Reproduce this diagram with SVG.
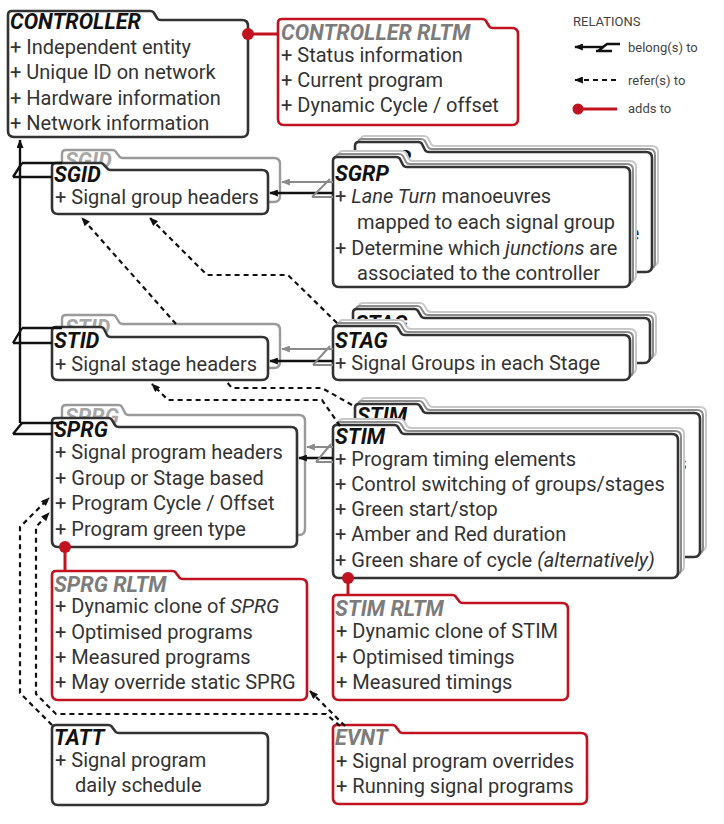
<svg xmlns="http://www.w3.org/2000/svg" xmlns:xlink="http://www.w3.org/1999/xlink" width="724" height="824" viewBox="0 0 724 824">
<style>
.card{fill:#fff;stroke:#333;stroke-width:2.6}
.red{fill:#fff;stroke:#c1121f;stroke-width:2.6}
.back{fill:#fff;stroke:#9a9a9a;stroke-width:2.4}
.sh1{fill:#fff;stroke:#8c8c8c;stroke-width:2}
.sh2{fill:#fff;stroke:#c8c8c8;stroke-width:2}
.t{font-family:Roboto,"Liberation Sans",sans-serif;font-size:20px;font-weight:normal;fill:#333}
.h{font-family:Roboto,"Liberation Sans",sans-serif;font-size:21.5px;font-weight:bold;font-style:italic;fill:#111}
.hr{font-family:Roboto,"Liberation Sans",sans-serif;font-size:21.5px;font-weight:bold;font-style:italic;fill:#7c7c7c}
.hb{font-family:Roboto,"Liberation Sans",sans-serif;font-size:21.5px;font-weight:bold;font-style:italic;fill:#a8a8a8}
.lg{font-family:Roboto,"Liberation Sans",sans-serif;font-size:13px;fill:#444}
.belong{stroke:#111;stroke-width:2.4;fill:none}
.belongg{stroke:#8a8a8a;stroke-width:2;fill:none}
.refer{stroke:#111;stroke-width:2.2;stroke-dasharray:5 4;fill:none}
.adds{stroke:#c1121f;stroke-width:3;fill:none}
.dot{fill:#c1121f}
</style>
<defs>
<marker id="ab" viewBox="0 0 10 8" refX="9" refY="4" markerWidth="9" markerHeight="7" orient="auto-start-reverse" markerUnits="userSpaceOnUse"><path d="M0,0 L10,4 L0,8 z" fill="#111"/></marker>
<marker id="ag" viewBox="0 0 10 8" refX="9" refY="4" markerWidth="9" markerHeight="7" orient="auto-start-reverse" markerUnits="userSpaceOnUse"><path d="M0,0 L10,4 L0,8 z" fill="#8a8a8a"/></marker>
<path id="sgrpShape" d="M333,281 V161 Q333,157 337,157 H396 Q399,157 400,159 L403,165 Q404,167 407,167 H624 Q630,167 630,173 V281 Q630,287 624,287 H339 Q333,287 333,281 Z"/>
<path id="stagShape" d="M333,374 V330 Q333,326 337,326 H394 Q397,326 398,328 L401,333 Q402,335 405,335 H624 Q630,335 630,341 V374 Q630,380 624,380 H339 Q333,380 333,374 Z"/>
<path id="stimShape" d="M333,572 V429 Q333,425 337,425 H394 Q397,425 398,427 L401,432 Q402,434 405,434 H672 Q678,434 678,440 V572 Q678,578 672,578 H339 Q333,578 333,572 Z"/>
<g id="sgrpText">
<text class="h" x="335" y="181">SGRP</text>
<text class="t" x="335" y="203">+ <tspan font-style="italic">Lane Turn</tspan> manoeuvres</text>
<text class="t" x="357" y="229">mapped to each signal group</text>
<text class="t" x="335" y="255">+ Determine which <tspan font-style="italic">junctions</tspan> are</text>
<text class="t" x="357" y="280">associated to the controller</text>
</g>
<g id="stagText">
<text class="h" x="335" y="348">STAG</text>
<text class="t" x="335" y="370">+ Signal Groups in each Stage</text>
</g>
<g id="stimText">
<text class="h" x="335" y="444">STIM</text>
<text class="t" x="335" y="466">+ Program timing elements</text>
<text class="t" x="335" y="491">+ Control switching of groups/stages</text>
<text class="t" x="335" y="516">+ Green start/stop</text>
<text class="t" x="335" y="541">+ Amber and Red duration</text>
<text class="t" x="335" y="567">+ Green share of cycle <tspan font-style="italic">(alternatively)</tspan></text>
</g>
</defs>
<rect width="724" height="824" fill="#fff"/>

<g id="legend">
<text class="lg" x="573" y="26" font-size="14">RELATIONS</text>
<path class="belong" d="M575,47 H604" marker-start="url(#ab)"/>
<path class="belong" stroke-width="1.8" d="M596,51 H612 M598,51 L607,44 H620"/>
<text class="lg" x="628" y="52">belong(s) to</text>
<path class="refer" stroke-width="1.8" stroke-dasharray="4 3" d="M575,80 H618" marker-start="url(#ab)"/>
<text class="lg" x="628" y="85">refer(s) to</text>
<circle class="dot" cx="578" cy="109" r="5.5"/>
<path class="adds" d="M578,109 H617"/>
<text class="lg" x="628" y="113">adds to</text>
</g>

<g id="CONTROLLER">
<path class="card" d="M8,131 V15 Q8,11 12,11 H150 Q153,11 154,13 L157,18 Q158,20 161,20 H242 Q248,20 248,26 V131 Q248,137 242,137 H14 Q8,137 8,131 Z"/>
<text class="h" x="10" y="29">CONTROLLER</text>
<text class="t" x="10" y="54">+ Independent entity</text>
<text class="t" x="10" y="79">+ Unique ID on network</text>
<text class="t" x="10" y="105">+ Hardware information</text>
<text class="t" x="10" y="130">+ Network information</text>
</g>

<g id="CONTROLLER_RLTM">
<path class="red" d="M278,119 V23 Q278,19 282,19 H482 Q485,19 486,21 L489,26 Q490,28 493,28 H512 Q518,28 518,34 V119 Q518,125 512,125 H284 Q278,125 278,119 Z"/>
<text class="hr" x="281" y="40">CONTROLLER RLTM</text>
<text class="t" x="281" y="62">+ Status information</text>
<text class="t" x="281" y="87">+ Current program</text>
<text class="t" x="281" y="112">+ Dynamic Cycle / offset</text>
</g>

<g id="SGID">
<path class="back" d="M62,196 V154 Q62,150 66,150 H112 Q115,150 116,152 L119,156 Q120,158 123,158 H274 Q280,158 280,164 V196 Q280,202 274,202 H68 Q62,202 62,196 Z"/>
<text class="hb" x="65" y="168">SGID</text>
<path class="card" d="M52,208 V167 Q52,163 56,163 H100 Q103,163 104,165 L107,168 Q108,170 111,170 H262 Q268,170 268,176 V208 Q268,214 262,214 H58 Q52,214 52,208 Z"/>
<text class="h" x="54" y="182">SGID</text>
<text class="t" x="55" y="204">+ Signal group headers</text>
</g>

<g id="STID">
<path class="back" d="M62,362 V319 Q62,315 66,315 H112 Q115,315 116,317 L119,322 Q120,324 123,324 H274 Q280,324 280,330 V362 Q280,368 274,368 H68 Q62,368 62,362 Z"/>
<text class="hb" x="65" y="335">STID</text>
<path class="card" d="M52,374 V331 Q52,327 56,327 H100 Q103,327 104,329 L107,335 Q108,337 111,337 H262 Q268,337 268,343 V374 Q268,380 262,380 H58 Q52,380 52,374 Z"/>
<text class="h" x="54" y="348">STID</text>
<text class="t" x="55" y="371">+ Signal stage headers</text>
</g>

<g id="SPRG">
<path class="back" d="M62,529 V409 Q62,405 66,405 H118 Q121,405 122,407 L125,413 Q126,415 129,415 H299 Q305,415 305,421 V529 Q305,535 299,535 H68 Q62,535 62,529 Z"/>
<text class="hb" x="65" y="424">SPRG</text>
<path class="card" d="M52,541 V422 Q52,418 56,418 H108 Q111,418 112,420 L115,425 Q116,427 119,427 H291 Q297,427 297,433 V541 Q297,547 291,547 H58 Q52,547 52,541 Z"/>
<text class="h" x="54" y="437">SPRG</text>
<text class="t" x="55" y="459">+ Signal program headers</text>
<text class="t" x="55" y="485">+ Group or Stage based</text>
<text class="t" x="55" y="510">+ Program Cycle / Offset</text>
<text class="t" x="55" y="536">+ Program green type</text>
</g>

<g id="SPRG_RLTM">
<path class="red" d="M52,694 V575 Q52,571 56,571 H172 Q175,571 176,573 L179,577 Q180,579 183,579 H301 Q307,579 307,585 V694 Q307,700 301,700 H58 Q52,700 52,694 Z"/>
<text class="hr" x="54" y="592">SPRG RLTM</text>
<text class="t" x="55" y="613">+ Dynamic clone of <tspan font-style="italic">SPRG</tspan></text>
<text class="t" x="55" y="639">+ Optimised programs</text>
<text class="t" x="55" y="664">+ Measured programs</text>
<text class="t" x="55" y="689">+ May override static SPRG</text>
</g>

<g id="TATT">
<path class="card" d="M52,799 V729 Q52,725 56,725 H108 Q111,725 112,727 L115,731 Q116,733 119,733 H262 Q268,733 268,739 V799 Q268,805 262,805 H58 Q52,805 52,799 Z"/>
<text class="h" x="54" y="745">TATT</text>
<text class="t" x="55" y="767">+ Signal program</text>
<text class="t" x="75" y="792">daily schedule</text>
</g>

<g id="SGRP">
<g transform="translate(22,-15)">
<use href="#sgrpShape" transform="translate(6,-6)" class="sh2"/>
<use href="#sgrpShape" transform="translate(3,-3)" class="sh1"/>
<use href="#sgrpShape" class="card"/>
<use href="#sgrpText"/>
</g>
<use href="#sgrpShape" transform="translate(6,-6)" class="sh2"/>
<use href="#sgrpShape" transform="translate(3,-3)" class="sh1"/>
<use href="#sgrpShape" class="card"/>
<use href="#sgrpText"/>
</g>

<g id="STAG">
<g transform="translate(20,-17)">
<use href="#stagShape" transform="translate(6,-6)" class="sh2"/>
<use href="#stagShape" transform="translate(3,-3)" class="sh1"/>
<use href="#stagShape" class="card"/>
<use href="#stagText"/>
</g>
<use href="#stagShape" transform="translate(6,-6)" class="sh2"/>
<use href="#stagShape" transform="translate(3,-3)" class="sh1"/>
<use href="#stagShape" class="card"/>
<use href="#stagText"/>
</g>

<g id="STIM">
<g transform="translate(22,-21)">
<use href="#stimShape" transform="translate(6,-6)" class="sh2"/>
<use href="#stimShape" transform="translate(3,-3)" class="sh1"/>
<use href="#stimShape" class="card"/>
<use href="#stimText"/>
</g>
<use href="#stimShape" transform="translate(6,-6)" class="sh2"/>
<use href="#stimShape" transform="translate(3,-3)" class="sh1"/>
<use href="#stimShape" class="card"/>
<use href="#stimText"/>
</g>

<g id="STIM_RLTM">
<path class="red" d="M333,694 V599 Q333,595 337,595 H452 Q455,595 456,597 L459,601 Q460,603 463,603 H562 Q568,603 568,609 V694 Q568,700 562,700 H339 Q333,700 333,694 Z"/>
<text class="hr" x="335" y="616">STIM RLTM</text>
<text class="t" x="336" y="638">+ Dynamic clone of STIM</text>
<text class="t" x="336" y="664">+ Optimised timings</text>
<text class="t" x="336" y="689">+ Measured timings</text>
</g>

<g id="EVNT">
<path class="red" d="M333,798 V729 Q333,725 337,725 H392 Q395,725 396,727 L399,731 Q400,733 403,733 H581 Q587,733 587,739 V798 Q587,804 581,804 H339 Q333,804 333,798 Z"/>
<text class="hr" x="335" y="745">EVNT</text>
<text class="t" x="336" y="768">+ Signal program overrides</text>
<text class="t" x="336" y="793">+ Running signal programs</text>
</g>

<g id="connectors">
<path class="belong" d="M20,423 V140" marker-end="url(#ab)"/>
<path class="belong" d="M13,177 H52 M13,177 L22,163"/>
<path class="belong" stroke="#555" stroke-width="2" d="M22,163 H62"/>
<path class="belong" d="M13,343 H52 M13,343 L22,328"/>
<path class="belong" stroke="#555" stroke-width="2" d="M22,328 H62"/>
<path class="belong" d="M13,434 H52 M13,434 L22,423"/>
<path class="belong" stroke="#555" stroke-width="2" d="M20,423 H62"/>
<path class="belongg" d="M333,182 H282" marker-end="url(#ag)"/>
<path class="belong" d="M333,193 H270" marker-end="url(#ab)"/>
<path class="belongg" stroke-width="1.6" d="M312,197 H333 M312,197 L330,179"/>
<path class="belongg" d="M333,349 H282" marker-end="url(#ag)"/>
<path class="belong" d="M333,361 H270" marker-end="url(#ab)"/>
<path class="belongg" stroke-width="1.6" d="M313,365 H333 M313,365 L330,346"/>
<path class="belongg" d="M333,447 H307" marker-end="url(#ag)"/>
<path class="belong" d="M333,458 H299" marker-end="url(#ab)"/>
<path class="belongg" stroke-width="1.6" d="M316,462 H333 M316,462 L331,444"/>
<path class="refer" d="M337,323 L288,275 H207 L150,218" marker-end="url(#ab)"/>
<path class="refer" d="M352,405 L322,388 H232 L225,380"/>
<path class="refer" d="M176,324 L82,218" marker-end="url(#ab)"/>
<path class="refer" d="M340,426 L322,400 H168 L152,384" marker-end="url(#ab)"/>
<path class="refer" d="M52,725 L20,693 V527 L49,498" marker-end="url(#ab)"/>
<path class="refer" d="M340,726 L326,714 H56 L36,694 V527 L49,513" marker-end="url(#ab)"/>
<path class="refer" d="M345,726 L310,691" marker-end="url(#ab)"/>
<path class="adds" d="M248,34 H278"/>
<circle class="dot" cx="248" cy="34" r="6"/>
<path class="adds" d="M65,547 V571"/>
<circle class="dot" cx="65" cy="547" r="6"/>
<path class="adds" d="M348,578 V595"/>
<circle class="dot" cx="348" cy="578" r="6"/>
</g>
</svg>
